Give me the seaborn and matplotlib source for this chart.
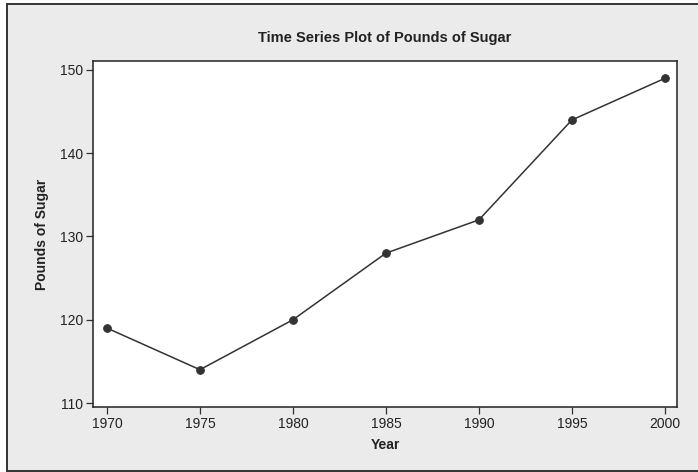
import matplotlib
matplotlib.use("Agg")
import matplotlib.pyplot as plt
import seaborn as sns
import pandas as pd
from matplotlib.patches import Rectangle
from matplotlib.lines import Line2D

years = [1970, 1975, 1980, 1985, 1990, 1995, 2000]
pounds = [119, 114, 120, 128, 132, 144, 149]
y_ticks = [110, 120, 130, 140, 150]

sns.set_theme(style="white")
plt.rcParams["font.family"] = ["Liberation Sans", "DejaVu Sans"]

df = pd.DataFrame({"Year": years, "Pounds of Sugar": pounds})

W, H = 698, 472
fig = plt.figure(figsize=(W / 100, H / 100), dpi=100)
fig.patch.set_facecolor("white")

# gray panel, framed on the left, top and bottom
fig.patches.append(Rectangle((8 / W, 2 / H), (W - 8) / W, (H - 6) / H,
                             transform=fig.transFigure, facecolor="#ebebeb",
                             edgecolor="none", zorder=-10))
frame_kw = dict(transform=fig.transFigure, color="#333333", linewidth=1.4)
fig.lines.append(Line2D([7.5 / W, 7.5 / W], [1.5 / H, 1 - 3.5 / H], **frame_kw))
fig.lines.append(Line2D([7 / W, 1], [1 - 3.5 / H, 1 - 3.5 / H], **frame_kw))
fig.lines.append(Line2D([7 / W, 1], [1.5 / H, 1.5 / H], **frame_kw))

ax = fig.add_axes([93 / W, 1 - 407 / H, (677 - 93) / W, (407 - 61) / H])
ax.set_facecolor("white")

sns.lineplot(data=df, x="Year", y="Pounds of Sugar", ax=ax, color="#333333",
             linewidth=1.1, marker="o", markersize=5.5,
             markeredgecolor="#333333", markerfacecolor="#333333")

ax.set_xlim(1969.25, 2000.65)
ax.set_ylim(109.52, 151.08)
ax.set_xticks(years)
ax.set_yticks(y_ticks)

for s in ax.spines.values():
    s.set_color("#222222")
    s.set_linewidth(1.1)

ax.tick_params(axis="both", direction="out", length=5, width=0.9,
               color="#333333", labelsize=10, labelcolor="#222222", pad=2,
               left=True, bottom=True)

ax.set_xlabel("Year", fontsize=10, fontweight="bold", color="#222222", labelpad=5)
ax.set_ylabel("Pounds of Sugar", fontsize=10, fontweight="bold", color="#222222", labelpad=8)
ax.set_title("Time Series Plot of Pounds of Sugar", fontsize=10.5,
             fontweight="bold", color="#222222", pad=14)

fig.savefig("out.png", dpi=100)
